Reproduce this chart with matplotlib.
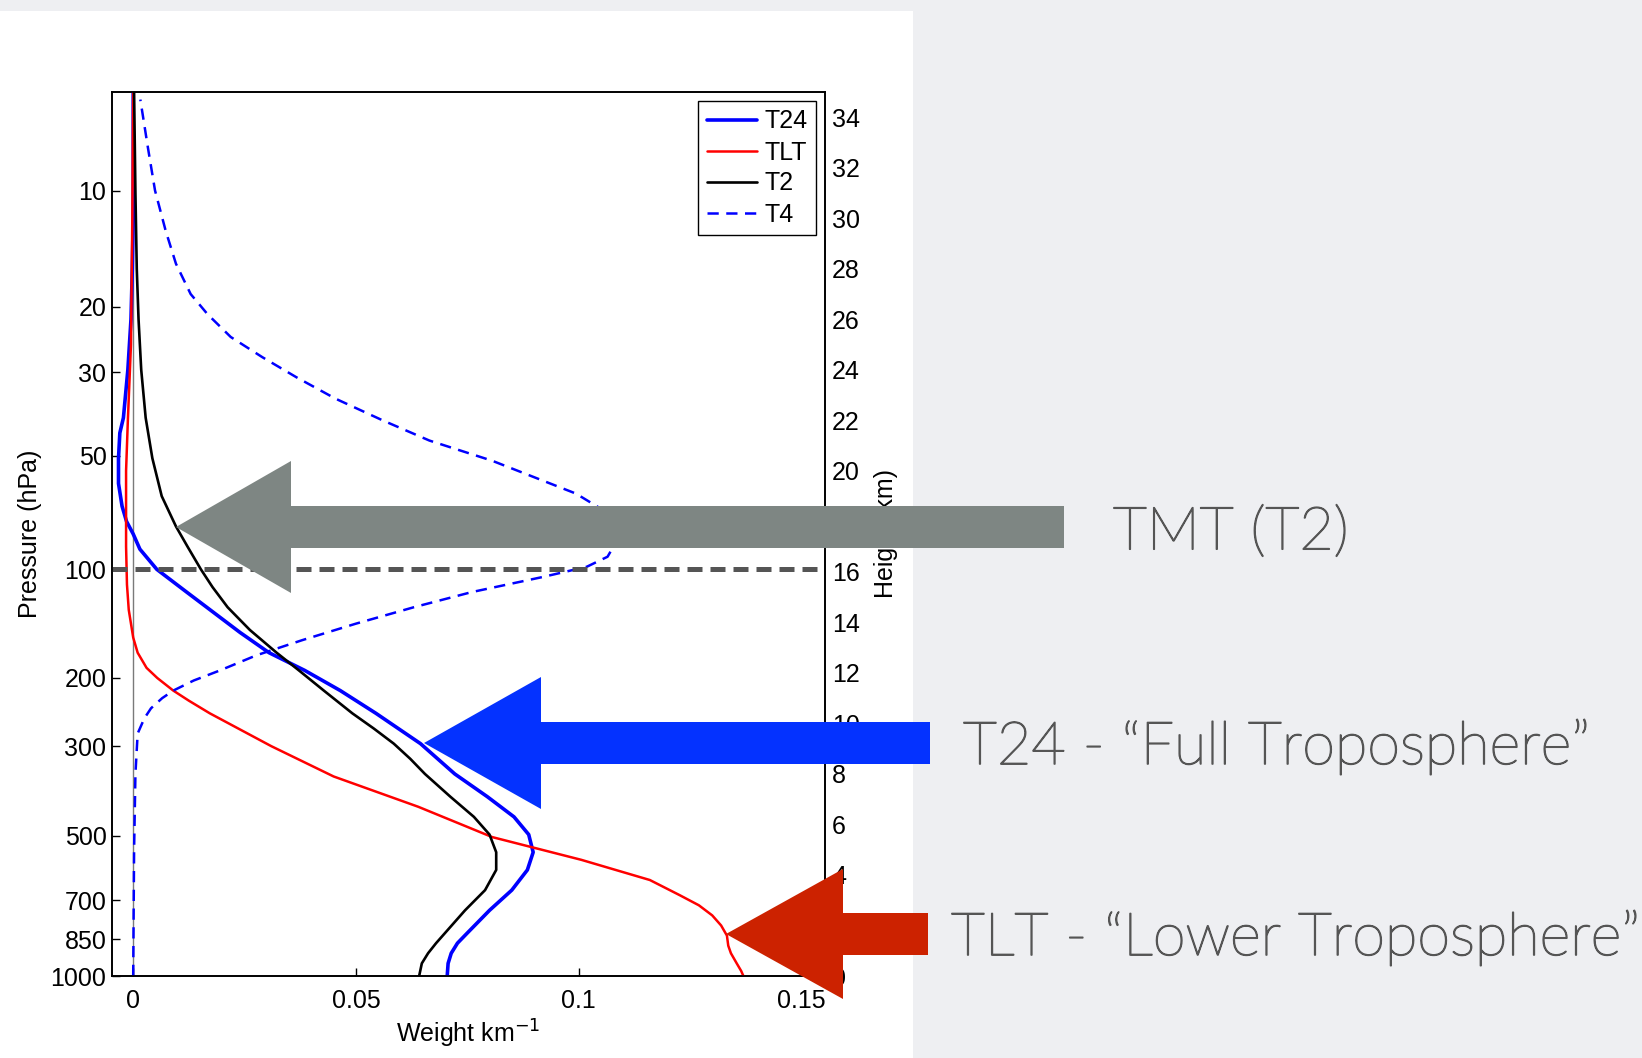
import numpy as np
import matplotlib
matplotlib.use('Agg')
import matplotlib.pyplot as plt
import matplotlib.patheffects as pe
from matplotlib.patches import Polygon, Rectangle

# ------------------------------------------------------------
# DATA  (weighting functions vs height)
# ------------------------------------------------------------
h_t24 = [0, 0.5, 0.9, 1.3, 1.7, 2.6, 3.4, 4.2, 4.9, 5.6, 6.3, 7.1, 8.0, 9.2, 10.4,
         11.3, 12.1, 12.8, 13.6, 14.4, 15.2, 16.1, 16.9, 17.5, 18.0, 18.6, 19.5,
         20.5, 21.5, 22.1, 24.0, 26.0, 28.0, 30.0, 35.0]
w_t24 = [0.0705, 0.0707, 0.0714, 0.0728, 0.0750, 0.0800, 0.0850, 0.0885, 0.0898,
         0.0888, 0.0855, 0.0795, 0.0722, 0.0645, 0.0545, 0.0465, 0.0385, 0.0305,
         0.0240, 0.0180, 0.0120, 0.0053, 0.0015, 0.0000, -0.0015, -0.0025,
         -0.0033, -0.0033, -0.0030, -0.0022, -0.0012, -0.0005, -0.0002, 0.0, 0.0]

h_tlt = [0, 0.2, 0.5, 0.9, 1.2, 1.6, 2.0, 2.4, 2.8, 3.2, 3.8, 4.6, 5.5, 6.7, 7.9,
         9.1, 10.4, 10.9, 11.3, 11.8, 12.2, 12.8, 13.4, 14.5, 15.5, 17.0, 20.0,
         22.0, 25.0, 30.0, 35.0]
w_tlt = [0.1370, 0.1365, 0.1355, 0.1342, 0.1336, 0.1333, 0.1320, 0.1300, 0.1270,
         0.1227, 0.1160, 0.1006, 0.0806, 0.0640, 0.0450, 0.0310, 0.0172, 0.0125,
         0.0090, 0.0054, 0.0030, 0.0010, 0.0000, -0.0010, -0.0014, -0.0016,
         -0.0016, -0.0012, -0.0005, -0.0002, 0.0]

h_t2 = [0, 0.5, 0.9, 1.3, 1.7, 2.6, 3.4, 4.2, 4.9, 5.6, 6.3, 7.1, 8.0, 8.6, 9.2,
        9.8, 10.4, 11.3, 12.1, 12.8, 13.7, 14.6, 15.4, 16.1, 17.0, 17.8, 19.0,
        20.5, 22.1, 24.0, 26.0, 28.0, 31.0, 35.0]
w_t2 = [0.0642, 0.0648, 0.0662, 0.0680, 0.0700, 0.0745, 0.0790, 0.0815, 0.0815,
        0.0800, 0.0765, 0.0712, 0.0655, 0.0622, 0.0585, 0.0540, 0.0492, 0.0428,
        0.0372, 0.0322, 0.0262, 0.0212, 0.0178, 0.0152, 0.0122, 0.0096, 0.0064,
        0.0043, 0.0028, 0.0018, 0.0012, 0.0008, 0.0005, 0.0002]

h_t4 = [0, 5.0, 8.0, 9.6, 10.2, 10.6, 11.0, 11.3, 11.7, 12.1, 12.7, 13.3, 13.95,
        14.6, 15.2, 15.8, 16.2, 16.6, 17.3, 17.9, 18.5, 19.1, 19.75, 20.4, 21.2,
        22.0, 22.86, 23.7, 24.5, 25.3, 26.2, 27.0, 28.2, 29.5, 31.1, 32.8, 34.7]
w_t4 = [0.0, 0.0002, 0.0005, 0.0010, 0.0025, 0.0040, 0.0065, 0.0090, 0.0136,
        0.0195, 0.0277, 0.0380, 0.0500, 0.0630, 0.0760, 0.0920, 0.1018, 0.1065,
        0.1088, 0.1084, 0.1050, 0.0994, 0.0900, 0.0806, 0.0665, 0.0560, 0.0454,
        0.0367, 0.0290, 0.0219, 0.0167, 0.0129, 0.0096, 0.0073, 0.0049, 0.0033,
        0.0016]

# pressure labels placed at their standard-atmosphere heights
p_labels = ['10', '20', '30', '50', '100', '200', '300', '500', '700', '850', '1000']
p_heights = [31.1, 26.5, 23.9, 20.6, 16.1, 11.8, 9.1, 5.55, 3.0, 1.45, 0.0]
km_ticks = list(range(0, 36, 2))
x_ticks = [0, 0.05, 0.1, 0.15]
x_ticklabels = ['0', '0.05', '0.1', '0.15']
tropopause_h = 16.1

# ------------------------------------------------------------
# FIGURE
# ------------------------------------------------------------
W, H = 1642, 1058
BG = '#eeeff2'
fig = plt.figure(figsize=(W / 100, H / 100), dpi=100, facecolor=BG)
fig.add_artist(Rectangle((0, 0), 913 / W, (H - 10.5) / H, transform=fig.transFigure,
                         facecolor='white', edgecolor='none', zorder=-5))

FS = 18
plt.rcParams['font.family'] = ['Liberation Sans', 'DejaVu Sans']

left, right, top, bottom = 112, 825, 92, 976
ax = fig.add_axes([left / W, (H - bottom) / H, (right - left) / W, (bottom - top) / H])
ax.set_facecolor('white')

lkw = dict(solid_joinstyle='round', solid_capstyle='round', zorder=3)
ax.axvline(0, color='#7a7a7a', lw=1.0, zorder=1)
ax.plot(w_t24, h_t24, color='#0000ff', lw=2.6, label='T24', **lkw)
ax.plot(w_tlt, h_tlt, color='#ff0000', lw=1.8, label='TLT', **lkw)
ax.plot(w_t2, h_t2, color='black', lw=1.9, label='T2', **lkw)
ax.plot(w_t4, h_t4, color='#0000ff', lw=1.8, ls=(0, (4.5, 3)), label='T4', zorder=3)
ax.axhline(tropopause_h, color='#555555', lw=3.6, ls=(0, (3, 1.6)), zorder=4)

ax.set_xlim(-0.00476, 0.15532)
ax.set_ylim(0, 35)
ax.set_xticks(x_ticks)
ax.set_xticklabels(x_ticklabels)
ax.set_yticks(p_heights)
ax.set_yticklabels(p_labels)
ax.tick_params(direction='in', length=6, labelsize=FS, width=1)
ax.tick_params(axis='x', pad=9)
ax.tick_params(axis='y', pad=4, right=True)
for s in ax.spines.values():
    s.set_linewidth(1.2)
ax.set_xlabel('Weight km$^{-1}$', fontsize=FS, labelpad=4)
ax.set_ylabel('Pressure (hPa)', fontsize=FS, labelpad=6)

leg = ax.legend(loc='upper right', fontsize=FS, frameon=True, fancybox=False,
                edgecolor='black', framealpha=1, borderpad=0.35, labelspacing=0.28,
                handlelength=2.0, handletextpad=0.3, borderaxespad=0.35)
leg.get_frame().set_linewidth(1.0)

ax2 = ax.twinx()
ax2.set_ylim(0, 35)
ax2.set_yticks(km_ticks)
ax2.tick_params(direction='in', length=0, labelsize=FS, pad=5, width=1)
ax2.set_ylabel('Height (km)', fontsize=FS, labelpad=10)
for s in ax2.spines.values():
    s.set_linewidth(1.2)

# ------------------------------------------------------------
# SLIDE ANNOTATIONS (pixel overlay)
# ------------------------------------------------------------
ov = fig.add_axes([0, 0, 1, 1], zorder=10)
ov.set_xlim(0, W)
ov.set_ylim(H, 0)
ov.axis('off')
ov.patch.set_alpha(0)


def block_arrow(tip_x, tip_y, base_x, head_half, tail_x, tail_half, color):
    pts = [(tip_x, tip_y), (base_x, tip_y - head_half), (base_x, tip_y - tail_half),
           (tail_x, tip_y - tail_half), (tail_x, tip_y + tail_half),
           (base_x, tip_y + tail_half), (base_x, tip_y + head_half)]
    ov.add_patch(Polygon(pts, closed=True, facecolor=color, edgecolor='none'))


block_arrow(176, 527, 291, 66, 1064, 21, '#7e8683')
block_arrow(424, 743, 541, 66, 930, 21, '#0432ff')
block_arrow(726, 934, 843, 65, 928, 21, '#cc2200')

txt_color = '#555555'
tkw = dict(color=txt_color, fontsize=42.8, va='center', ha='left',
           family=['Lato', 'DejaVu Sans'], fontweight='light',
           path_effects=[pe.withStroke(linewidth=1.1, foreground=txt_color)])
ov.text(1113, 533, 'TMT (T2)', **tkw)
ov.text(963, 747, 'T24 - \u201cFull Troposphere\u201d', **tkw)
ov.text(951, 938, 'TLT - \u201cLower Troposphere\u201d', **tkw)

fig.savefig('out.png', dpi=100, facecolor=BG)
